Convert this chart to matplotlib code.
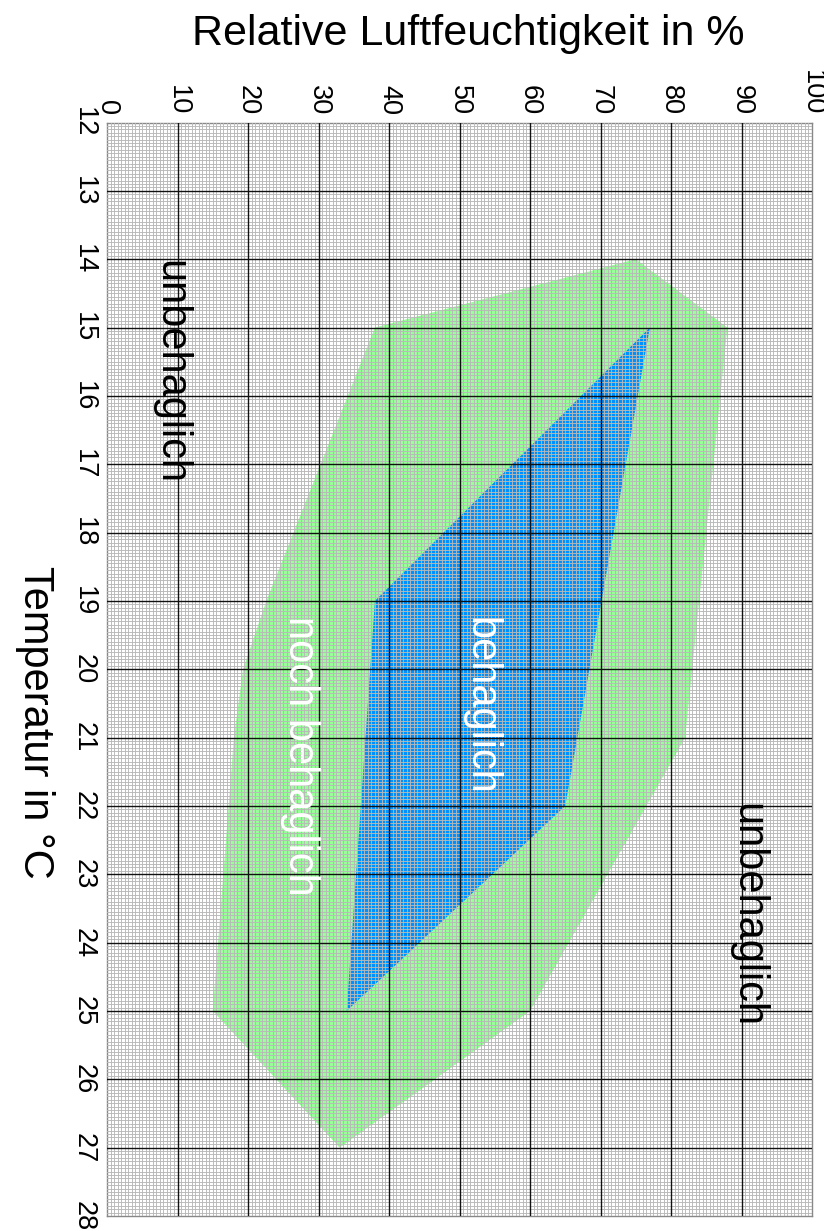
import matplotlib
matplotlib.use("Agg")
import matplotlib.pyplot as plt
from matplotlib.ticker import MultipleLocator

plt.rcParams["font.family"] = ["Liberation Sans", "DejaVu Sans"]

# relative humidity (%) / temperature (degC) of the zone outlines
green_rh = [75, 88, 82, 60, 33, 15, 18, 19.3, 22.6, 38]
green_t = [14, 15, 21, 25, 27, 25, 21, 20, 19, 15]
blue_rh = [77, 65, 34, 38]
blue_t = [15, 22, 25, 19]

rh_ticks = list(range(0, 101, 10))
t_ticks = list(range(12, 29))

# zone labels: text, rh, temperature, colour
zone_labels = [
    ("unbehaglich", 9.0, 15.65, "black"),
    ("unbehaglich", 90.8, 23.6, "black"),
    ("behaglich", 53.0, 20.54, "white"),
    ("noch behaglich", 27.4, 21.27, "white"),
]

fig = plt.figure(figsize=(8.24, 12.31), dpi=100)
ax = fig.add_axes([107 / 824, 15 / 1231, 705 / 824, 1093.5 / 1231])

ax.fill(green_rh, green_t, color="#99ff99", lw=0, zorder=1)
ax.fill(blue_rh, blue_t, color="#0090ff", lw=0, zorder=1.1)

ax.set_xlim(0, 100)
ax.set_ylim(28, 12)
ax.xaxis.tick_top()
ax.set_xticks(rh_ticks)
ax.set_yticks(t_ticks)
ax.xaxis.set_minor_locator(MultipleLocator(0.5))
ax.yaxis.set_minor_locator(MultipleLocator(0.05))

# fine grid from the axes, the coarse grid drawn on top of it
ax.set_axisbelow(False)
ax.grid(which="minor", color="#b8b8b8", lw=0.65)
for v in rh_ticks[1:-1]:
    ax.axvline(v, color="#111111", lw=1.0, zorder=2.7)
for v in t_ticks[1:-1]:
    ax.axhline(v, color="#111111", lw=1.0, zorder=2.7)

ax.tick_params(which="both", length=0)
ax.tick_params(axis="x", pad=5.4, labelsize=19.5)
ax.tick_params(axis="y", pad=7.2, labelsize=19.5)
for lab in ax.get_xticklabels():
    lab.set_rotation(-90)
    lab.set_va("bottom")
    lab.set_ha("center")
for lab in ax.get_yticklabels():
    lab.set_rotation(-90)
    lab.set_va("center")
    lab.set_ha("right")

for s in ax.spines.values():
    s.set_color("#888888")
    s.set_linewidth(1.0)

for text, rh, t, col in zone_labels:
    ax.text(rh, t, text, rotation=-90, ha="center", va="center",
            fontsize=30, color=col, zorder=3)

fig.text(468 / 824, 1 - 34 / 1231, "Relative Luftfeuchtigkeit in %",
         ha="center", va="center", fontsize=31)
fig.text(35 / 824, 1 - 722 / 1231, "Temperatur in °C", rotation=-90,
         ha="center", va="center", fontsize=30)

fig.savefig("out.png", dpi=100)
